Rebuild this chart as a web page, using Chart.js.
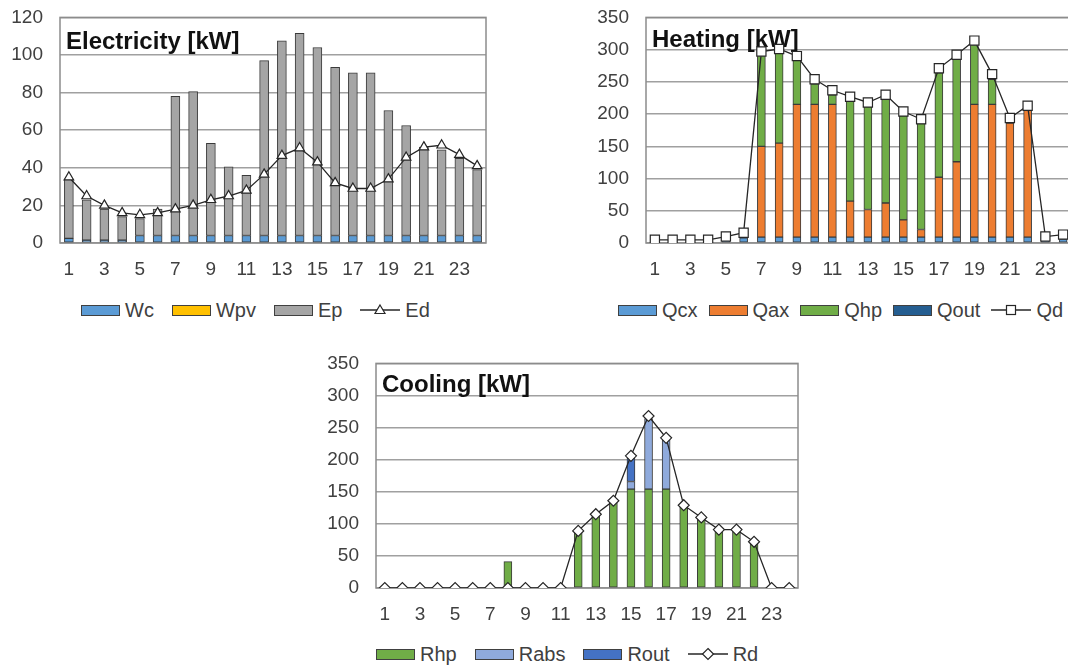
<!DOCTYPE html>
<html>
<head>
<meta charset="utf-8">
<script src="https://cdn.jsdelivr.net/npm/chart.js@4.4.0/dist/chart.umd.min.js"></script>
<style>
  html, body { margin: 0; padding: 0; background: #fff; width: 1068px; height: 665px; overflow: hidden; }
  body { position: relative; }
  canvas { position: absolute; }
  .legend { position: absolute; display: flex; align-items: center; height: 24px;
            font: 20px 'Liberation Sans', Arial, sans-serif; color: #404040; white-space: nowrap; }
  .legend .item { display: flex; align-items: center; margin-right: 18px; }
  .legend.tight .item { margin-right: 11px; }
  .legend .sw { width: 37px; height: 9px; border: 1px solid #404040; margin-right: 5px; }
  .legend svg { margin-right: 5px; }
</style>
</head>
<body>
<canvas id="elec" width="500" height="301" style="left:0;top:-11px"></canvas>
<canvas id="heat" width="500" height="301" style="left:586px;top:-11px"></canvas>
<canvas id="cool" width="496" height="300" style="left:316px;top:335px"></canvas>

<div class="legend" style="left:81px;top:298px">
  <span class="item"><span class="sw" style="background:#5b9bd5"></span>Wc</span>
  <span class="item"><span class="sw" style="background:#ffc000"></span>Wpv</span>
  <span class="item"><span class="sw" style="background:#a5a5a5"></span>Ep</span>
  <span class="item"><svg width="40" height="14"><line x1="0" y1="7" x2="40" y2="7" stroke="#262626" stroke-width="1.3"/><polygon points="20,2 25,10.5 15,10.5" fill="#fff" stroke="#262626" stroke-width="1.2"/></svg>Ed</span>
</div>
<div class="legend tight" style="left:618px;top:298px">
  <span class="item"><span class="sw" style="background:#5b9bd5"></span>Qcx</span>
  <span class="item"><span class="sw" style="background:#ed7d31"></span>Qax</span>
  <span class="item"><span class="sw" style="background:#70ad47"></span>Qhp</span>
  <span class="item"><span class="sw" style="background:#255e91"></span>Qout</span>
  <span class="item"><svg width="40" height="14"><line x1="0" y1="7" x2="40" y2="7" stroke="#262626" stroke-width="1.3"/><rect x="15.5" y="2.5" width="9" height="9" fill="#fff" stroke="#262626" stroke-width="1.2"/></svg>Qd</span>
</div>
<div class="legend" style="left:376px;top:642px">
  <span class="item"><span class="sw" style="background:#70ad47"></span>Rhp</span>
  <span class="item"><span class="sw" style="background:#8faadc"></span>Rabs</span>
  <span class="item"><span class="sw" style="background:#4472c4"></span>Rout</span>
  <span class="item"><svg width="40" height="14"><line x1="0" y1="7" x2="40" y2="7" stroke="#262626" stroke-width="1.3"/><polygon points="20,1.5 25.5,7 20,12.5 14.5,7" fill="#fff" stroke="#262626" stroke-width="1.2"/></svg>Rd</span>
</div>

<script>
// hours of the day, x axis categories
const hours = ['1', '2', '3', '4', '5', '6', '7', '8', '9', '10', '11', '12',
  '13', '14', '15', '16', '17', '18', '19', '20', '21', '22', '23', '24'];

// Electricity [kW]
const elecWc = [2.5, 1.5, 1.5, 1.5, 4, 4, 4, 4, 4, 4, 4, 4, 4, 4, 4, 4, 4, 4, 4, 4, 4, 4, 4, 4];
const elecWpv = [0, 0, 0, 0, 0, 0, 0, 0, 0, 0, 0, 0, 0, 0, 0, 0, 0, 0, 0, 0, 0, 0, 0, 0];
const elecEp = [31.5, 21.5, 16.5, 12.5, 9, 14, 74, 76.5, 49, 36.5, 32, 93,
  103.5, 107.5, 100, 89.5, 86.5, 86.5, 66.5, 58.5, 47, 45.5, 41, 35];
const elecEd = [35, 25, 20, 16, 15, 16, 18, 20, 23, 25, 28, 36.5,
  46.5, 50.5, 43, 32, 29, 29, 34, 45.5, 51, 52, 47, 41];

// Heating [kW]
const heatQcx = [0, 0, 0, 0, 3, 8, 9, 9, 9, 9, 9, 9, 9, 9, 9, 9, 9, 9, 9, 9, 9, 9, 3, 6];
const heatQax = [0, 0, 0, 0, 0, 0, 141, 146, 206, 206, 206, 56, 43, 53, 27, 12, 93, 117, 206, 206, 177, 199, 0, 0];
const heatQhp = [0, 0, 0, 0, 0, 0, 147, 147, 70, 32, 15, 156, 160, 161, 162, 165, 162, 160, 93, 39, 0, 0, 0, 0];
const heatQout = [0, 0, 0, 0, 0, 0, 0, 0, 0, 0, 0, 0, 0, 0, 0, 0, 0, 0, 0, 0, 0, 0, 0, 0];
const heatQd = [5, 5, 5, 5, 10, 16, 297, 301, 290, 254, 237, 227, 218, 230, 204, 192, 271, 292, 314, 262, 194, 213, 10, 13];

// Cooling [kW]
const coolRhp = [0, 0, 0, 0, 0, 0, 0, 41, 0, 0, 0, 86, 112, 133, 154, 154, 154, 126, 107, 89, 89, 69, 0, 0];
const coolRabs = [0, 0, 0, 0, 0, 0, 0, 0, 0, 0, 0, 0, 0, 0, 12, 110, 77, 0, 0, 0, 0, 0, 0, 0];
const coolRout = [0, 0, 0, 0, 0, 0, 0, 0, 0, 0, 0, 0, 0, 0, 36, 0, 0, 0, 0, 0, 0, 0, 0, 0];
const coolRd = [0, 0, 0, 0, 0, 0, 0, 0, 0, 0, 0, 89, 115, 136, 206, 268, 234, 129, 110, 91, 91, 72, 0, 0];

const FONT = "'Liberation Sans', Arial, sans-serif";
const INK = '#404040';

// plot frame + bold title inside the plot, under the marks
const frameAndTitle = {
  id: 'frameAndTitle',
  beforeDatasetsDraw(chart, args, opts) {
    const { ctx, chartArea: a } = chart;
    ctx.save();
    ctx.strokeStyle = '#8c8c8c';
    ctx.lineWidth = 1.5;
    ctx.strokeRect(a.left, a.top, a.right - a.left, a.bottom - a.top);
    ctx.fillStyle = '#111';
    ctx.font = 'bold 24px ' + FONT;
    ctx.textBaseline = 'alphabetic';
    ctx.fillText(opts.text, a.left + 6, a.top + opts.baseline);
    ctx.restore();
  }
};

function barSet(label, data, color, thickness) {
  return {
    type: 'bar', label, data,
    backgroundColor: color, borderColor: '#3a3a3a', borderWidth: 1,
    borderSkipped: false, barThickness: thickness,
    stack: 'supply', order: 1
  };
}

function lineSet(label, data, style, radius) {
  return {
    type: 'line', label, data,
    borderColor: '#262626', borderWidth: 1.3, tension: 0,
    pointStyle: style, pointRadius: radius, pointBorderWidth: 1.2,
    pointBackgroundColor: '#fff', pointBorderColor: '#262626',
    stack: 'demand', order: 0
  };
}

function makeChart(id, datasets, yMax, step, title, baseline) {
  return new Chart(document.getElementById(id), {
    data: { labels: hours, datasets },
    options: {
      responsive: false,
      animation: false,
      layout: { padding: { top: 6, right: 14, left: 0, bottom: 0 } },
      plugins: {
        legend: { display: false },
        tooltip: { enabled: false },
        frameAndTitle: { text: title, baseline }
      },
      scales: {
        x: {
          stacked: true,
          grid: { display: false, drawTicks: false },
          border: { display: false },
          ticks: {
            autoSkip: false, maxRotation: 0, padding: 15, color: INK,
            font: { family: FONT, size: 19 },
            callback: (v, i) => (i % 2 === 0 ? hours[i] : '')
          },
          afterFit: (s) => { s.height = 47; }
        },
        y: {
          stacked: true, min: 0, max: yMax,
          grid: { color: '#a0a0a0', lineWidth: 1.5, drawTicks: false },
          border: { display: false },
          ticks: { stepSize: step, padding: 17, color: INK, font: { family: FONT, size: 19 } },
          afterFit: (s) => { s.width = 60; }
        }
      }
    },
    plugins: [frameAndTitle]
  });
}

makeChart('elec', [
  lineSet('Ed', elecEd, 'triangle', 5.5),
  barSet('Wc', elecWc, '#5b9bd5', 9),
  barSet('Wpv', elecWpv, '#ffc000', 9),
  barSet('Ep', elecEp, '#a5a5a5', 9)
], 120, 20, 'Electricity [kW]', 31.5);

makeChart('heat', [
  lineSet('Qd', heatQd, 'rect', 6.5),
  barSet('Qcx', heatQcx, '#5b9bd5', 8),
  barSet('Qax', heatQax, '#ed7d31', 8),
  barSet('Qhp', heatQhp, '#70ad47', 8),
  barSet('Qout', heatQout, '#255e91', 8)
], 350, 50, 'Heating [kW]', 29.5);

makeChart('cool', [
  lineSet('Rd', coolRd, 'rectRot', 5.5),
  barSet('Rhp', coolRhp, '#70ad47', 8),
  barSet('Rabs', coolRabs, '#8faadc', 8),
  barSet('Rout', coolRout, '#4472c4', 8)
], 350, 50, 'Cooling [kW]', 28.5);
</script>
</body>
</html>
